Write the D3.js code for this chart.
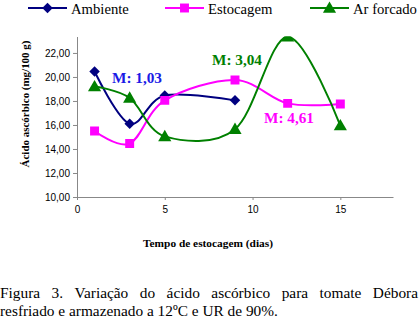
<!DOCTYPE html>
<html>
<script src="https://d3js.org/d3.v7.min.js"></script>

<head>
    <style>
        body {
            margin: 0;
            background-color: white;
        }
    </style>
</head>

<body>
    <div id="vis"></div>
</body>
<script>
    const width = 420,
        height = 321;
    const days = [1, 3, 5, 9, 12, 15];
    const ambiente = [20.45, 16.1, 18.45, 18.05];
    const estocagem = [15.5, 14.45, 18.05, 19.75, 17.8, 17.75];
    const arForcado = [19.2, 18.25, 15.05, 15.65, 23.35, 15.95];
    const seriesNames = ["Ambiente", "Estocagem", "Ar forcado"];
    const yTicks = [10, 12, 14, 16, 18, 20, 22];
    const xTicks = [0, 5, 10, 15];
    const notes = ["M: 1,03", "M: 3,04", "M: 4,61"];

    const colors = ["#000080", "#ff00ff", "#008000"];
    const noteColors = ["#1a1ae6", "#008000", "#ff00ff"];
    const symbols = [d3.symbolDiamond2, d3.symbolSquare, d3.symbolTriangle];
    const symbolSizes = [70, 80, 75];
    const serif = "'Liberation Serif', 'Times New Roman', Times, serif";
    const sans = "'Liberation Sans', Arial, sans-serif";

    const svg = d3.select("#vis").append("svg").attr("width", width).attr("height", height);
    const margin = { left: 77, top: 36.5, right: 393, bottom: 197 };

    const x = d3.scaleLinear().domain([0, 18]).range([margin.left, margin.right]);
    const y = d3.scaleLinear().domain([10, 23.37]).range([margin.bottom, margin.top]);
    const fmt = v => d3.format(".2f")(v).replace(".", ",");

    // size a font so a text fills a given width
    function fitSize(text, target, weight) {
        const t = svg.append("text").style("font-family", serif)
            .attr("font-size", 10).attr("font-weight", weight || "normal").text(text);
        const w = t.node().getComputedTextLength();
        t.remove();
        return 10 * target / w;
    }

    // axes
    svg.append("g")
        .attr("transform", `translate(${margin.left},0)`)
        .call(d3.axisLeft(y).tickValues(yTicks).tickFormat(fmt).tickSize(4).tickSizeOuter(0))
        .call(g => g.attr("font-family", sans).attr("font-size", 10))
        .call(g => g.selectAll("text").attr("fill", "#000"))
        .call(g => g.selectAll("line, path").attr("stroke", "#888"));
    svg.append("g")
        .attr("transform", `translate(0,${margin.bottom})`)
        .call(d3.axisBottom(x).tickValues(xTicks).tickSize(3).tickSizeOuter(0).tickPadding(6))
        .call(g => g.attr("font-family", sans).attr("font-size", 10))
        .call(g => g.selectAll("text").attr("fill", "#000"))
        .call(g => g.selectAll("line, path").attr("stroke", "#888"));

    svg.append("defs").append("clipPath").attr("id", "plot")
        .append("rect")
        .attr("x", margin.left).attr("y", margin.top)
        .attr("width", margin.right - margin.left).attr("height", margin.bottom - margin.top);

    const line = d3.line()
        .x(d => x(d[0]))
        .y(d => y(d[1]))
        .curve(d3.curveCatmullRom.alpha(0));

    const allSeries = [ambiente, estocagem, arForcado];
    const plot = svg.append("g").attr("clip-path", "url(#plot)");
    allSeries.forEach((vals, i) => {
        const pts = vals.map((v, j) => [days[j], v]);
        plot.append("path")
            .attr("d", line(pts))
            .attr("fill", "none")
            .attr("stroke", colors[i])
            .attr("stroke-width", 2);
        plot.selectAll(".m" + i)
            .data(pts)
            .join("path")
            .attr("class", "m" + i)
            .attr("transform", d => `translate(${x(d[0])},${y(d[1]) + (i == 2 ? 1 : 0)})`)
            .attr("d", d3.symbol(symbols[i], symbolSizes[i]))
            .attr("fill", colors[i]);
    });

    // annotations
    const notePos = [[112, 83], [212, 65], [264, 123]];
    const noteSize = fitSize(notes[0], 50, "bold");
    notes.forEach((t, i) => {
        svg.append("text")
            .attr("x", notePos[i][0])
            .attr("y", notePos[i][1])
            .style("font-family", serif)
            .attr("font-weight", "bold")
            .attr("font-size", noteSize)
            .attr("fill", noteColors[i])
            .text(t);
    });

    // legend
    const legendX = [28, 165, 310];
    const legendSize = fitSize(seriesNames[2], 64);
    seriesNames.forEach((n, i) => {
        const g = svg.append("g").attr("transform", `translate(${legendX[i]},8)`);
        g.append("line").attr("x1", 0).attr("x2", 39).attr("stroke", colors[i]).attr("stroke-width", 2);
        g.append("path").attr("transform", `translate(19.5,${i == 2 ? 1 : 0})`)
            .attr("d", d3.symbol(symbols[i], symbolSizes[i]))
            .attr("fill", colors[i]);
        g.append("text")
            .attr("x", 43).attr("y", 5.5)
            .style("font-family", serif)
            .attr("font-size", legendSize)
            .text(n);
    });

    // axis titles
    svg.append("text")
        .attr("transform", "translate(29,104) rotate(-90)")
        .attr("text-anchor", "middle")
        .style("font-family", serif)
        .attr("font-weight", "bold")
        .attr("font-size", fitSize("Ácido ascórbico (mg/100 g)", 127, "bold"))
        .text("Ácido ascórbico (mg/100 g)");
    svg.append("text")
        .attr("x", 208).attr("y", 247)
        .attr("text-anchor", "middle")
        .style("font-family", serif)
        .attr("font-weight", "bold")
        .attr("font-size", fitSize("Tempo de estocagem (dias)", 130, "bold"))
        .text("Tempo de estocagem (dias)");

    // caption
    const caption1 = ["Figura", "3.", "Variação", "do", "ácido", "ascórbico", "para", "tomate", "Débora"];
    const caption2 = "resfriado e armazenado a 12ºC e UR de 90%.";
    const capSize = fitSize(caption2, 278);
    const capG = svg.append("g").style("font-family", serif).attr("font-size", capSize);
    const tmp = capG.selectAll(".w").data(caption1).join("text").attr("class", "w").text(d => d);
    const widths = tmp.nodes().map(n => n.getComputedTextLength());
    const gap = (418 - d3.sum(widths)) / (caption1.length - 1);
    let cx = 0;
    tmp.each(function (d, j) {
        d3.select(this).attr("x", cx).attr("y", 298);
        cx += widths[j] + gap;
    });
    capG.append("text").attr("x", 0).attr("y", 316).text(caption2);
</script>

</html>
